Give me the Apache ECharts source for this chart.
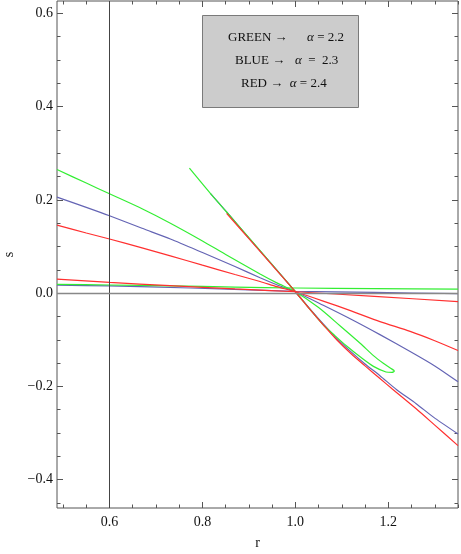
<!DOCTYPE html>
<html>
<head>
<meta charset="utf-8">
<script src="https://cdn.jsdelivr.net/npm/echarts@6/dist/echarts.min.js"></script>
<style>
html,body{margin:0;padding:0;background:#fff;}
#chart{width:461px;height:554px;}
</style>
</head>
<body>
<div id="chart"></div>
<script>
// ---- axis ranges & ticks ----
const rMin = 0.487, rMax = 1.35;
const sMin = -0.4607, sMax = 0.6264;
const rMajorTicks = [0.6, 0.8, 1.0, 1.2];
const rMinorTicks = [0.5, 0.55, 0.65, 0.7, 0.75, 0.85, 0.9, 0.95, 1.05, 1.1, 1.15, 1.25, 1.3, 1.35];
const sMajorTicks = [-0.4, -0.2, 0.0, 0.2, 0.4, 0.6];
const sMinorTicks = [-0.45, -0.35, -0.3, -0.25, -0.15, -0.1, -0.05, 0.05, 0.1, 0.15, 0.25, 0.3, 0.35, 0.45, 0.5, 0.55];

// ---- GREEN (alpha = 2.2) ----
const greenLoopR = [0.487, 0.55, 0.6, 0.67, 0.731, 0.80, 0.85, 0.924, 0.96, 1.0, 1.05, 1.096, 1.14, 1.168, 1.19, 1.205, 1.213, 1.208, 1.195, 1.168, 1.14, 1.111, 1.085, 1.06, 1.03, 1.0, 0.95, 0.90, 0.852, 0.817, 0.772];
const greenLoopS = [0.265, 0.236, 0.213, 0.181, 0.150, 0.112, 0.083, 0.041, 0.022, 0.003, -0.031, -0.070, -0.108, -0.134, -0.151, -0.161, -0.167, -0.170, -0.169, -0.157, -0.137, -0.114, -0.091, -0.068, -0.033, 0.003, 0.061, 0.119, 0.174, 0.214, 0.268];
const greenFlatR = [0.487, 0.6, 0.73, 0.87, 1.0, 1.17, 1.35];
const greenFlatS = [0.019, 0.0175, 0.0156, 0.013, 0.011, 0.0095, 0.0086];

// ---- BLUE (alpha = 2.3) ----
const blueUpperR = [0.487, 0.55, 0.6, 0.67, 0.731, 0.80, 0.87, 0.924, 0.96, 1.0, 1.06, 1.12, 1.182, 1.247, 1.30, 1.35];
const blueUpperS = [0.206, 0.184, 0.166, 0.139, 0.116, 0.087, 0.057, 0.033, 0.018, 0.003, -0.026, -0.056, -0.089, -0.125, -0.156, -0.190];
const blueSteepR = [0.817, 0.86, 0.90, 0.95, 1.0, 1.03, 1.06, 1.09, 1.12, 1.15, 1.182, 1.218, 1.26, 1.30, 1.35];
const blueSteepS = [0.214, 0.165, 0.118, 0.061, 0.003, -0.032, -0.066, -0.098, -0.126, -0.152, -0.177, -0.207, -0.237, -0.268, -0.302];
const blueFlatR = [0.487, 0.6, 0.774, 0.9, 1.0, 1.17, 1.35];
const blueFlatS = [0.017, 0.0155, 0.011, 0.007, 0.004, 0.0015, -0.001];

// ---- RED (alpha = 2.4) ----
const redUpperR = [0.487, 0.55, 0.6, 0.67, 0.731, 0.80, 0.87, 0.924, 0.96, 1.0, 1.06, 1.12, 1.182, 1.247, 1.30, 1.35];
const redUpperS = [0.146, 0.129, 0.116, 0.097, 0.080, 0.060, 0.040, 0.025, 0.014, 0.003, -0.017, -0.038, -0.061, -0.082, -0.102, -0.123];
const redSteepR = [0.852, 0.90, 0.95, 1.0, 1.03, 1.06, 1.09, 1.12, 1.15, 1.182, 1.208, 1.26, 1.30, 1.35];
const redSteepS = [0.171, 0.117, 0.060, 0.003, -0.033, -0.068, -0.101, -0.130, -0.156, -0.183, -0.205, -0.248, -0.283, -0.327];
const redFlatR = [0.487, 0.6, 0.73, 0.87, 1.0, 1.17, 1.35];
const redFlatS = [0.030, 0.023, 0.016, 0.009, 0.003, -0.007, -0.018];

const GREEN = '#33ee33', BLUE = '#6464b4', RED = '#ff3030';
const FONT = 'Liberation Serif';
const frameColor = '#555';

function zip(a, b) { return a.map((v, i) => [v, b[i]]); }
function fmt(v) { return v.toFixed(1).replace('-', '\u2212'); }

function line(r, s, color) {
  return {
    type: 'line', xAxisIndex: 0, yAxisIndex: 0,
    data: zip(r, s), showSymbol: false, symbol: 'none', smooth: 0.25,
    lineStyle: { color: color, width: 1.2 }, silent: true, animation: false, z: 3
  };
}

const chart = echarts.init(document.getElementById('chart'), null, { renderer: 'canvas' });

function xAx(pos, ticks, len, labels) {
  return {
    type: 'value', min: rMin, max: rMax, position: pos,
    axisLine: { show: false, onZero: false },
    axisTick: { show: true, inside: true, length: len, customValues: ticks, lineStyle: { color: frameColor, width: 1 } },
    axisLabel: labels ? { show: true, customValues: ticks, formatter: fmt, fontFamily: FONT, fontSize: 14, color: '#111', margin: 7 } : { show: false },
    splitLine: { show: false },
    name: labels ? 'r' : '', nameLocation: 'middle', nameGap: 28,
    nameTextStyle: { fontFamily: FONT, fontSize: 14, color: '#111' }
  };
}
function yAx(pos, ticks, len, labels) {
  return {
    type: 'value', min: sMin, max: sMax, position: pos,
    axisLine: { show: false, onZero: false },
    axisTick: { show: true, inside: true, length: len, customValues: ticks, lineStyle: { color: frameColor, width: 1 } },
    axisLabel: labels ? { show: true, customValues: ticks, formatter: fmt, fontFamily: FONT, fontSize: 14, color: '#111', margin: 4 } : { show: false },
    splitLine: { show: false },
    name: labels ? 's' : '', nameLocation: 'middle', nameGap: 40,
    nameTextStyle: { fontFamily: FONT, fontSize: 14, color: '#111' }
  };
}

const axisRef = {
  type: 'line', xAxisIndex: 0, yAxisIndex: 0, data: [], silent: true, animation: false,
  markLine: {
    symbol: 'none', silent: true, animation: false, label: { show: false },
    data: [
      { xAxis: 0.6, lineStyle: { color: '#444', width: 1, type: 'solid' } },
      { yAxis: 0, lineStyle: { color: '#888', width: 1.3, type: 'solid' } }
    ]
  }
};

chart.setOption({
  backgroundColor: '#fff',
  animation: false,
  grid: { left: 57, right: 3, top: 1, bottom: 46, containLabel: false, outerBoundsMode: 'none', show: true, borderColor: frameColor, borderWidth: 1, backgroundColor: 'transparent' },
  xAxis: [xAx('bottom', rMajorTicks, 6, true), xAx('bottom', rMinorTicks, 3.5, false), xAx('top', rMajorTicks, 6, false), xAx('top', rMinorTicks, 3.5, false)],
  yAxis: [yAx('left', sMajorTicks, 6, true), yAx('left', sMinorTicks, 3.5, false), yAx('right', sMajorTicks, 6, false), yAx('right', sMinorTicks, 3.5, false)],
  series: [
    axisRef,
    line(blueFlatR, blueFlatS, BLUE),
    line(blueUpperR, blueUpperS, BLUE),
    line(blueSteepR, blueSteepS, BLUE),
    line(greenFlatR, greenFlatS, GREEN),
    line(greenLoopR, greenLoopS, GREEN),
    line(redFlatR, redFlatS, RED),
    line(redUpperR, redUpperS, RED),
    line(redSteepR, redSteepS, RED)
  ],
  graphic: [
    { type: 'rect', shape: { x: 202.5, y: 15.5, width: 156, height: 92 }, style: { fill: '#cccccc', stroke: '#7a7a7a', lineWidth: 1 }, z: 10 },
    { type: 'text', x: 228, y: 38, z: 11, style: { text: 'GREEN \u2192      {a|\u03b1} = 2.2', font: '13px "Liberation Serif"', fill: '#111', verticalAlign: 'middle', rich: { a: { fontStyle: 'italic', fontFamily: FONT, fontSize: 13 } } } },
    { type: 'text', x: 235, y: 61, z: 11, style: { text: 'BLUE \u2192   {a|\u03b1}  =  2.3', font: '13px "Liberation Serif"', fill: '#111', verticalAlign: 'middle', rich: { a: { fontStyle: 'italic', fontFamily: FONT, fontSize: 13 } } } },
    { type: 'text', x: 241, y: 84, z: 11, style: { text: 'RED \u2192  {a|\u03b1} = 2.4', font: '13px "Liberation Serif"', fill: '#111', verticalAlign: 'middle', rich: { a: { fontStyle: 'italic', fontFamily: FONT, fontSize: 13 } } } }
  ]
});
</script>
</body>
</html>
